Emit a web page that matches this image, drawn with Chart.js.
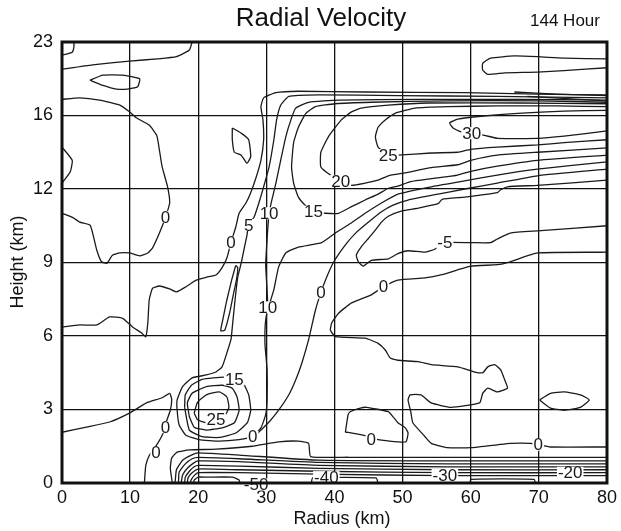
<!DOCTYPE html>
<html><head><meta charset="utf-8">
<script src="https://cdn.jsdelivr.net/npm/chart.js@4"></script>
<style>html,body{margin:0;padding:0;background:#fff}canvas{display:block}</style>
</head><body>
<canvas id="c" width="621" height="531"></canvas>
<script>
// Axis tick labels
const radiusTicks = [0,10,20,30,40,50,60,70,80];
const heightTicks = [0,3,6,9,12,16,23];   // height levels (km) on the stretched vertical grid

// Contour polylines: [radius (km), height level index (0..6 -> heightTicks)]
const cTopLeftCorner = [[0,5.82],[1.5,5.86],[1.75,5.93],[1.75,6]];
const cTopLeftBand = [[0,5.63],[4.5,5.69],[9.9,5.74],[14.0,5.77],[16.8,5.8],[18.7,5.89],[19.1,6]];
const cTopLeftLoop = [[4.1,5.48],[6.0,5.55],[8.9,5.55],[11.4,5.5],[11.1,5.39],[9.6,5.36],[8.0,5.36],[6.0,5.41],[4.1,5.48]];
const cZeroLeftUpper = [[0,5.22],[2.6,5.24],[5.5,5.21],[8.5,5.14],[9.9,5.05],[10.9,4.97],[12.8,4.87],[13.9,4.73],[14.3,4.53],[14.7,4.3],[15.5,4.03],[15.8,3.81],[15.2,3.62],[14.3,3.4],[13.3,3.2],[12.6,3.13],[11.4,3.09],[9.9,3.13],[8.5,3.13],[7.4,3.1],[6.6,2.99],[5.8,3.01],[5.1,3.17],[4.5,3.4],[4.1,3.51],[2.6,3.55],[1.6,3.61],[0,3.67]];
const cLeftBump = [[0,4.57],[1.5,4.39],[1.2,4.23],[0,4.08]];
const cZeroMain = [[0,2.12],[2.6,2.15],[5.1,2.15],[7.0,2.26],[8.9,2.24],[10.4,2.12],[11.7,2.04],[12.3,1.99],[12.6,2.18],[12.8,2.49],[13.3,2.65],[14.3,2.68],[15.8,2.64],[16.8,2.6],[18.2,2.67],[19.7,2.76],[21.2,2.8],[22.6,2.83],[23.5,2.93],[24.2,3.06],[24.8,3.27],[25.5,3.48],[26.0,3.67],[27.0,3.81],[27.7,3.95],[28.5,4.16],[29.2,4.39],[29.6,4.67],[29.5,4.94],[29.2,5.12],[29.6,5.24],[31.4,5.31],[34.7,5.33],[44.5,5.32],[59.1,5.31],[69.8,5.29],[80,5.28]];
const cZeroLowLeft = [[0,0.69],[3.6,0.76],[7.0,0.83],[9.9,0.95],[12.4,1.09],[14.7,1.16],[15.8,1.22],[16.1,1.14],[15.9,0.99],[15.3,0.83],[15.2,0.76],[14.6,0.63],[13.9,0.52],[12.85,0.38],[12.3,0.24],[12.1,0]];
const cCore25 = [[19.4,0.95],[19.9,1.1],[21.2,1.2],[23.1,1.24],[24.2,1.17],[24.5,1.03],[23.8,0.9],[21.2,0.82],[19.9,0.86],[19.4,0.95]];
const cCore20 = [[18.7,0.9],[18.4,1.09],[19.1,1.22],[21.2,1.31],[23.5,1.33],[25.0,1.29],[25.7,1.17],[26.0,0.99],[25.3,0.82],[23.5,0.75],[21.2,0.72],[19.4,0.76],[18.7,0.9]];
const cCore15 = [[18.0,1.03],[18.1,1.2],[19.0,1.33],[20.6,1.41],[23.8,1.44],[26.3,1.4],[27.4,1.2],[27.7,0.99],[27.2,0.82],[25.5,0.68],[23.1,0.62],[20.6,0.63],[18.7,0.72],[18.0,1.03]];
const cRing = [[80,5.24],[63.9,5.26],[49.3,5.27],[37.7,5.28],[33.3,5.26],[32.1,5.14],[31.5,4.94],[31.1,4.67],[30.4,4.3],[29.6,4.03],[28.9,3.81],[28.2,3.62],[27.4,3.51],[27.15,3.37],[26.7,3.17],[26.3,2.99],[25.8,2.8],[25.4,2.49],[25.0,2.12],[24.8,1.95],[24.2,1.77],[23.5,1.58],[22.6,1.51],[21.2,1.47],[19.1,1.43],[17.7,1.31],[16.9,1.13],[16.9,0.99],[17.2,0.79],[18.2,0.65],[20.1,0.59],[23.1,0.57],[26.0,0.59],[27.9,0.63],[29.2,0.75],[29.9,0.93],[30.1,1.13],[30.1,1.54],[29.8,1.88],[29.8,2.08],[29.9,2.22],[30.2,2.39],[30.1,2.63],[29.9,2.97],[30.1,3.31],[30.4,3.67],[30.8,3.85],[31.4,4.08],[32.1,4.39],[32.85,4.71],[33.6,4.94],[34.3,5.1],[36.2,5.18],[40.6,5.21],[52.3,5.22],[66.9,5.22],[80,5.21]];
const cTen = [[30.4,2.42],[31.1,2.63],[31.8,2.94],[32.85,3.13],[34.7,3.21],[38.1,3.27],[40.1,3.4],[42.0,3.51],[44.5,3.67],[46.9,3.81],[49.3,3.93],[54.2,4.03],[59.1,4.11],[63.9,4.19],[69.8,4.27],[80,4.37]];
const cZeroRise = [[80,4.27],[69.8,4.18],[63.9,4.08],[59.1,4.0],[55.2,3.93],[50.8,3.85],[48.6,3.78],[46.9,3.69],[45.0,3.55],[43.1,3.4],[41.6,3.24],[39.9,3.01],[38.8,2.79],[38.0,2.59],[37.2,2.35],[36.2,1.95],[35.2,1.63],[34.3,1.4],[33.3,1.2],[31.8,0.99],[30.4,0.83],[29.2,0.72],[28.3,0.64]];
const cMinus5 = [[80,3.5],[69.8,3.43],[65.8,3.4],[63.9,3.32],[62.9,3.27],[60,3.27],[56.2,3.27],[54.7,3.18],[53.3,3.14],[50.8,3.16],[49.3,3.12],[47.9,3.05],[45.4,3.03],[44.2,2.95],[43.5,3.01],[43.2,3.1],[43.9,3.21],[45.0,3.33],[46.0,3.44],[46.9,3.55],[47.9,3.63],[49.8,3.7],[52.3,3.74],[55.2,3.8],[55.8,3.86],[59.1,3.89],[63.9,3.95],[64.4,3.99],[65.4,4.03],[69.8,4.05],[80,4.12]];
const cFifteen = [[80,4.46],[69.8,4.39],[63.9,4.31],[60.0,4.24],[58.1,4.19],[54.2,4.14],[51.2,4.1],[49.3,4.04],[47.9,4.01],[46.4,3.93],[44.5,3.85],[42.5,3.76],[40.6,3.67],[38.7,3.67],[36.9,3.69],[35.9,3.76],[34.7,3.89],[34.0,4.08],[33.7,4.3],[34.0,4.63],[34.7,4.84],[35.8,5.03],[37.2,5.12],[40.1,5.16],[45.4,5.18],[56.6,5.2],[69.8,5.2],[80,5.18]];
const cTwenty = [[80,4.56],[69.8,4.5],[63.9,4.46],[60.0,4.39],[58.1,4.33],[54.2,4.29],[50.4,4.22],[47.9,4.18],[46.4,4.12],[44.5,4.08],[42.5,4.05],[40.9,4.11],[39.4,4.19],[38.0,4.3],[38.0,4.5],[39.1,4.71],[41.0,4.94],[42.5,5.05],[43.9,5.1],[47.9,5.14],[53.7,5.17],[66.9,5.17],[80,5.16]];
const cTwentyFive = [[80,5.12],[72.7,5.13],[63.9,5.13],[56.6,5.12],[51.8,5.1],[48.9,5.03],[47.45,4.94],[46.4,4.84],[46.0,4.71],[46.4,4.57],[47.9,4.46],[49.3,4.46],[54.2,4.49],[58.1,4.5],[60.0,4.54],[63.9,4.57],[69.8,4.6],[73.7,4.63],[80,4.67]];
const cThirty = [[80,5.07],[73.7,5.06],[66.9,5.03],[61.5,4.99],[58.1,4.95],[56.9,4.9],[57.4,4.83],[58.5,4.78],[60.15,4.76],[62.0,4.73],[63.9,4.69],[69.8,4.69],[73.7,4.72],[80,4.79]];
const cBundleA = [[66.4,5.32],[72.7,5.29],[80,5.27]];
const cBundleB = [[68.3,5.26],[80,5.2]];
const cTopRightTongue = [[80,5.77],[73.7,5.78],[69.8,5.8],[66.4,5.81],[62.9,5.78],[61.75,5.71],[61.75,5.62],[62.5,5.56],[65.0,5.58],[69.8,5.59],[73.7,5.61],[80,5.65]];
const cBlob = [[25.0,4.83],[26.3,4.76],[27.4,4.67],[27.7,4.44],[27.15,4.35],[26.3,4.46],[25.3,4.5],[25.0,4.67],[25.0,4.83]];
const cThinLoop = [[25.5,2.96],[24.9,2.76],[24.2,2.49],[23.6,2.22],[23.3,2.07],[23.9,2.08],[24.6,2.31],[25.1,2.54],[25.6,2.76],[25.8,2.93],[25.5,2.96]];
const cZeroRight = [[80,3.14],[69.8,3.13],[65.8,3.01],[63.9,2.97],[60,2.95],[55.6,2.83],[53.3,2.79],[49.3,2.76],[47.2,2.67],[45.4,2.56],[42.5,2.45],[40.6,2.31],[39.6,2.18],[39.4,2.08],[40.15,1.99],[44.5,1.97],[46.4,1.9],[47.45,1.81],[48.2,1.7],[49.3,1.67],[52.3,1.65],[54.2,1.61],[58.1,1.58],[60.6,1.51],[61.75,1.5],[62.5,1.58],[63.5,1.61],[64.4,1.54],[65.0,1.4],[65.4,1.29],[63.9,1.24],[62.5,1.29],[61.75,1.22],[61.3,1.09],[57.1,1.03],[54.2,1.09],[52.7,1.2],[51.1,1.2],[50.8,1.13],[51.2,0.97],[51.5,0.82],[53.3,0.63],[54.2,0.54],[56.6,0.48],[60,0.48],[63.9,0.52],[65.8,0.54],[68.8,0.54],[69.9,0.52],[71.7,0.49],[80,0.49]];
const cZeroSmallLoop = [[41.6,0.69],[42.0,0.93],[42.3,0.97],[43.8,1.02],[44.7,1.03],[47.9,0.97],[48.6,0.9],[49.3,0.82],[50.4,0.75],[50.8,0.68],[50.5,0.56],[49.3,0.56],[46.4,0.59],[44.2,0.65],[42.0,0.69],[41.6,0.69]];
const cLens = [[70.1,1.13],[71.7,1.22],[73.7,1.24],[76.1,1.2],[77.4,1.13],[76.1,1.03],[73.7,0.99],[71.7,1.02],[70.1,1.13]];
const cFanOuter = [[16.2,0],[15.9,0.2],[16.1,0.34],[16.9,0.42],[18.7,0.45],[22.6,0.46],[27.9,0.5],[31.8,0.56],[34.7,0.57],[36.2,0.54],[36.5,0.36],[42.0,0.35],[56.6,0.35],[80,0.35]];
const cFan1 = [[16.6,0],[16.8,0.18],[17.7,0.31],[19.0,0.38],[20,0.41],[26,0.38],[37.7,0.31],[56.6,0.3],[80,0.3]];
const cFan2 = [[17.1,0],[17.2,0.15],[18.1,0.26],[19.1,0.33],[20,0.35],[26,0.33],[37.7,0.28],[56.6,0.26],[80,0.26]];
const cFan3 = [[17.5,0],[17.7,0.11],[18.4,0.2],[19.3,0.27],[20,0.3],[26,0.29],[37.7,0.24],[56.6,0.22],[80,0.22]];
const cFan4 = [[18.0,0],[18.1,0.08],[18.7,0.16],[19.4,0.22],[20,0.24],[26,0.23],[37.7,0.2],[56.6,0.18],[80,0.18]];
const cFan5 = [[18.4,0],[18.5,0.07],[19.1,0.14],[20,0.19],[26,0.18],[37.7,0.16],[56.6,0.14],[80,0.14]];
const cFan6 = [[18.8,0],[19.0,0.05],[19.4,0.1],[20,0.14],[26,0.14],[37.7,0.12],[56.6,0.1],[80,0.1]];
const cMinus50 = [[19.3,0],[19.4,0.04],[20,0.08],[21.2,0.08],[25.0,0.08],[26,0.04],[26.1,0]];
const cMinus40 = [[36.6,0],[36.8,0.07],[46.1,0.07],[46.4,0]];
const cMinus30 = [[59.9,0],[60,0.05],[69.3,0.05],[69.5,0]];

const contours = [cTopLeftCorner,cTopLeftBand,cTopLeftLoop,cZeroLeftUpper,cLeftBump,cZeroMain,cZeroLowLeft,
  cCore25,cCore20,cCore15,cRing,cTen,cZeroRise,cMinus5,cFifteen,cTwenty,cTwentyFive,cThirty,cBundleA,cBundleB,
  cTopRightTongue,cBlob,cThinLoop,cZeroRight,cZeroSmallLoop,cLens,cFanOuter,cFan1,cFan2,cFan3,cFan4,cFan5,cFan6,
  cMinus50,cMinus40,cMinus30];

// Contour labels: [text, radius (km), height level]
const contourLabels = [
  ["0",15.2,3.62],["0",24.8,3.27],["5",27.4,3.51],["10",30.4,3.67],["15",36.9,3.69],["20",40.9,4.11],
  ["25",47.9,4.46],["30",60.15,4.76],["-5",56.2,3.27],["0",47.2,2.67],["0",38.0,2.59],["10",30.2,2.39],
  ["15",25.3,1.41],["25",22.6,0.86],["0",15.2,0.76],["0",13.8,0.42],["0",28.0,0.63],["0",45.4,0.59],
  ["0",69.9,0.52],["-50",28.5,-0.02],["-40",38.8,0.08],["-30",56.2,0.11],["-20",74.6,0.14]
];

const FONT = '"Liberation Sans", Arial, sans-serif';

const datasets = contours.map(c => ({
  data: c.map(p => ({x: p[0], y: p[1]})),
  showLine: true, fill: false, pointRadius: 0, borderColor: '#1a1a1a', borderWidth: 1.3,
  tension: 0.15
}));

const decor = {
  id: 'decor',
  afterDatasetsDraw(chart) {
    const ctx = chart.ctx, xs = chart.scales.x, ys = chart.scales.y;
    ctx.save();
    ctx.font = '17px ' + FONT;
    ctx.textAlign = 'center'; ctx.textBaseline = 'middle';
    contourLabels.forEach(([t, x, y]) => {
      const px = xs.getPixelForValue(x), py = ys.getPixelForValue(y);
      const w = ctx.measureText(t).width;
      ctx.fillStyle = '#fff';
      ctx.fillRect(px - w/2 - 1, py - 6, w + 2, 12);
      ctx.fillStyle = '#1a1a1a';
      ctx.fillText(t, px, py + 1);
    });
    ctx.restore();
  },
  afterDraw(chart) {
    const ctx = chart.ctx, a = chart.chartArea;
    ctx.save();
    ctx.strokeStyle = '#111'; ctx.lineWidth = 3;
    ctx.strokeRect(a.left, a.top, a.right - a.left, a.bottom - a.top);
    ctx.fillStyle = '#111';
    ctx.textAlign = 'center'; ctx.textBaseline = 'middle';
    ctx.font = '26px ' + FONT;
    ctx.fillText('Radial Velocity', 321, 19);
    ctx.font = '17px ' + FONT;
    ctx.fillText('144 Hour', 565, 21);
    ctx.font = '18px ' + FONT;
    ctx.fillText('Radius (km)', 342, 519);
    ctx.translate(18, 262); ctx.rotate(-Math.PI/2);
    ctx.fillText('Height (km)', 0, 0);
    ctx.restore();
  }
};

new Chart(document.getElementById('c'), {
  type: 'scatter',
  data: { datasets },
  options: {
    responsive: false, animation: false, events: [],
    layout: { padding: { top: 42, right: 11, left: 0, bottom: 0 } },
    plugins: { legend: { display: false }, tooltip: { enabled: false }, title: { display: false } },
    scales: {
      x: {
        type: 'linear', min: radiusTicks[0], max: radiusTicks[radiusTicks.length-1],
        afterFit: s => { s.height = 48; },
        afterBuildTicks: s => { s.ticks = radiusTicks.map(v => ({ value: v })); },
        ticks: { autoSkip: false, maxRotation: 0, padding: 4, color: '#111', font: { size: 18, family: FONT } },
        grid: { color: '#111', lineWidth: 1.3, drawTicks: false },
        border: { display: false }
      },
      y: {
        type: 'linear', min: 0, max: heightTicks.length - 1,
        afterFit: s => { s.width = 62; },
        afterBuildTicks: s => { s.ticks = heightTicks.map((v, i) => ({ value: i })); },
        ticks: { autoSkip: false, padding: 9, color: '#111', font: { size: 18, family: FONT },
                 callback: v => heightTicks[v] },
        grid: { color: '#111', lineWidth: 1.3, drawTicks: false },
        border: { display: false }
      }
    }
  },
  plugins: [decor]
});
</script>
</body></html>
